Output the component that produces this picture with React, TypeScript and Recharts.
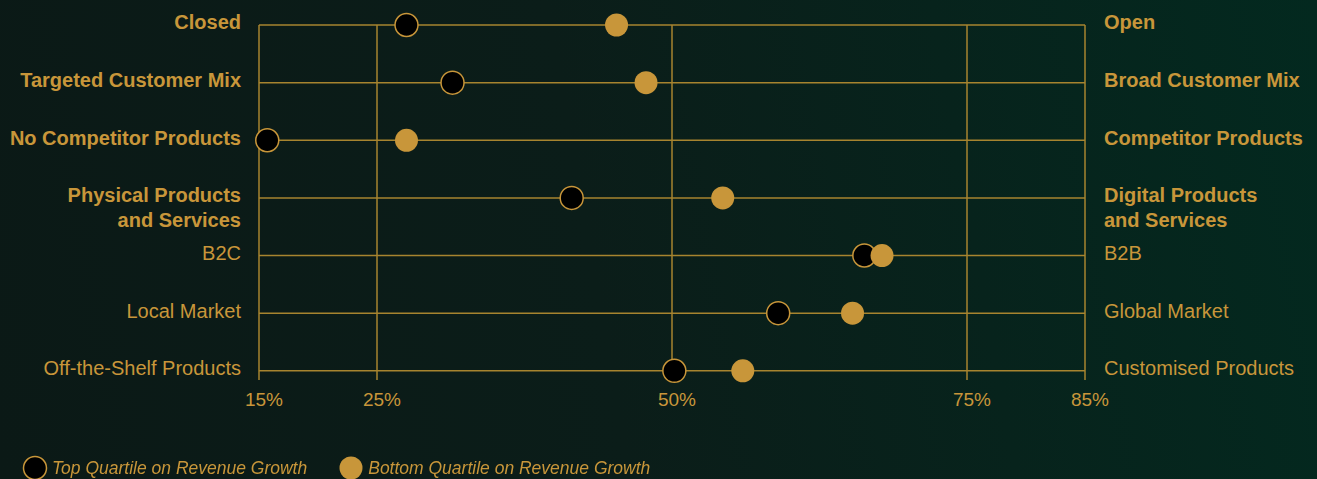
import React from "react";
import { ScatterChart, Scatter, XAxis, YAxis, ReferenceLine, Legend } from "recharts";

const LEFT_LABELS = [
  "Closed",
  "Targeted Customer Mix",
  "No Competitor Products",
  "Physical Products\nand Services",
  "B2C",
  "Local Market",
  "Off-the-Shelf Products",
];
const RIGHT_LABELS = [
  "Open",
  "Broad Customer Mix",
  "Competitor Products",
  "Digital Products\nand Services",
  "B2B",
  "Global Market",
  "Customised Products",
];
const TOP_QUARTILE = [27.5, 31.4, 15.7, 41.5, 66.3, 59.0, 50.2];
const BOTTOM_QUARTILE = [45.3, 47.8, 27.5, 54.3, 67.8, 65.3, 56.0];
const X_TICKS = [15, 25, 50, 75, 85];
const X_GRID = [25, 50, 75];
const SERIES_NAMES = ["Top Quartile on Revenue Growth", "Bottom Quartile on Revenue Growth"];

const GOLD = "#c8963a";
const LINE = "#a7842f";
const FONT = "'Liberation Sans', Arial, Helvetica, sans-serif";

const rows = LEFT_LABELS.map((_, i) => i);
const topData = TOP_QUARTILE.map((v, i) => ({ x: v, y: i }));
const bottomData = BOTTOM_QUARTILE.map((v, i) => ({ x: v, y: i }));

function SideTick({ x, y, payload, labels, anchor }: any) {
  const i = payload.value;
  const lines = labels[i].split("\n");
  return (
    <text
      x={x}
      y={y}
      textAnchor={anchor}
      fill={GOLD}
      fontSize={20}
      fontWeight={i < 4 ? 700 : 400}
      fontFamily={FONT}
    >
      {lines.map((l: string, k: number) => (
        <tspan key={k} x={x} dy={k === 0 ? "0.22em" : 25}>
          {l}
        </tspan>
      ))}
    </text>
  );
}

function XTick({ x, y, payload }: any) {
  return (
    <text x={x + 5} y={y} dy="0.71em" textAnchor="middle" fill={GOLD} fontSize={19} fontFamily={FONT}>
      {payload.value}%
    </text>
  );
}

const Dot = (fill: string, stroke?: string) => (props: any) =>
  <circle cx={props.cx} cy={props.cy} r={11.5} fill={fill} stroke={stroke || "none"} strokeWidth={1.5} />;

function LegendContent() {
  const items = [
    { name: SERIES_NAMES[0], fill: "#000", stroke: GOLD },
    { name: SERIES_NAMES[1], fill: GOLD, stroke: "none" },
  ];
  return (
    <div style={{ display: "flex", alignItems: "center", paddingLeft: 22, paddingTop: 16, fontFamily: FONT }}>
      {items.map((it) => (
        <div key={it.name} style={{ display: "flex", alignItems: "center", marginRight: 31 }}>
          <svg width={26} height={26}>
            <circle cx={13} cy={13} r={11.5} fill={it.fill} stroke={it.stroke} strokeWidth={1.5} />
          </svg>
          <span style={{ color: GOLD, fontStyle: "italic", fontSize: 17.5, marginLeft: 4 }}>{it.name}</span>
        </div>
      ))}
    </div>
  );
}

export default function App() {
  return (
    <div
      style={{
        position: "fixed",
        left: 0,
        top: 0,
        width: 1317,
        height: 479,
        background: "linear-gradient(80deg, #0b1916 0%, #0b1d19 45%, #03291f 100%)",
      }}
    >
      <ScatterChart width={1317} height={479} margin={{ top: 25, right: 0, bottom: 0, left: 0 }}>
        <XAxis
          type="number"
          dataKey="x"
          domain={[15, 85]}
          ticks={X_TICKS}
          tick={<XTick />}
          axisLine={false}
          tickLine={false}
          tickSize={0}
          tickMargin={13}
          height={59}
        />
        <YAxis
          yAxisId="left"
          type="number"
          dataKey="y"
          reversed
          domain={[0, 6.16]}
          ticks={rows}
          width={259}
          tick={<SideTick labels={LEFT_LABELS} anchor="end" />}
          tickSize={0}
          tickMargin={18}
          tickLine={false}
          axisLine={{ stroke: LINE, strokeWidth: 1.5 }}
          interval={0}
        />
        <YAxis
          yAxisId="right"
          orientation="right"
          type="number"
          dataKey="y"
          reversed
          domain={[0, 6.16]}
          ticks={rows}
          width={232}
          tick={<SideTick labels={RIGHT_LABELS} anchor="start" />}
          tickSize={0}
          tickMargin={19}
          tickLine={false}
          axisLine={{ stroke: LINE, strokeWidth: 1.5 }}
          interval={0}
        />
        {rows.map((r) => (
          <ReferenceLine key={"h" + r} yAxisId="left" y={r} stroke={LINE} strokeWidth={1.5} />
        ))}
        {X_GRID.map((v) => (
          <ReferenceLine key={v} yAxisId="left" x={v} stroke={LINE} strokeWidth={1.5} />
        ))}
        <Legend verticalAlign="bottom" height={40} content={<LegendContent />} />
        <Scatter
          yAxisId="left"
          name={SERIES_NAMES[0]}
          data={topData}
          shape={Dot("#000", GOLD)}
          isAnimationActive={false}
        />
        <Scatter
          yAxisId="right"
          name={SERIES_NAMES[1]}
          data={bottomData}
          shape={Dot(GOLD)}
          isAnimationActive={false}
        />
      </ScatterChart>
    </div>
  );
}
